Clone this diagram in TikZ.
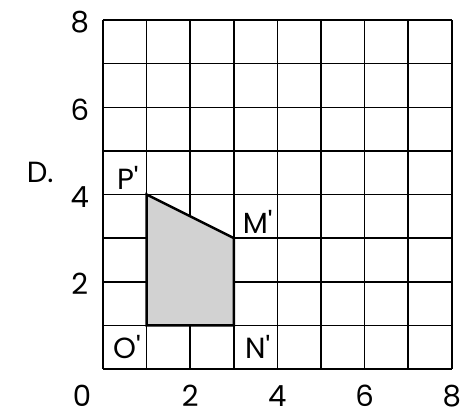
\documentclass[tikz,border=0pt]{standalone}
\usepackage{fontspec}
\setmainfont{Poppins}
\usepackage{tikz}

\tikzset{
  lbl/.style={font=\fontsize{19}{21}\selectfont, inner sep=0pt},
  gridline/.style={line width=1pt, black},
  polyline/.style={line width=1.6pt}
}

\begin{document}
\begin{tikzpicture}[scale=1.0]
  \useasboundingbox (-2.36,-1.10) rectangle (8.21,8.46);

  \draw[gridline] (0,0) grid (8,8);
  \fill[gray!35] (1,1) coordinate (O) -- (3,1) coordinate (N) -- (3,3) coordinate (M) -- (1,4) coordinate (P) -- cycle;
  \draw[polyline] (O) -- (N) -- (M) -- (P) -- cycle;

  \node[lbl] (Dlbl) at (-1.44,4.5) {D.};
  \node[lbl] (Plbl) at (0.57,4.38) {P\textquotesingle};
  \node[lbl] (Mlbl) at (3.55,3.37) {M\textquotesingle};
  \node[lbl] (Nlbl) at (3.55,0.5) {N\textquotesingle};
  \node[lbl] (Olbl) at (0.55,0.5) {O\textquotesingle};

  \node[lbl] (x0) at (-0.48,-0.62) {0};
  \foreach \v in {2,4,6,8} {
    \node[lbl] (x\v) at (\v,-0.62) {\v};
    \node[lbl] (y\v) at (-0.53,\v-0.05) {\v};
  }
\end{tikzpicture}
\end{document}
